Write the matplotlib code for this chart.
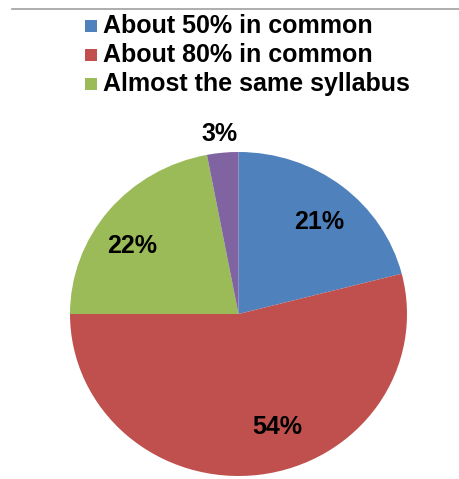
import matplotlib
matplotlib.use('Agg')
import matplotlib.pyplot as plt
from matplotlib.patches import Rectangle
from matplotlib.lines import Line2D

# data
categories = ['About 50% in common', 'About 80% in common', 'Almost the same syllabus', 'Other']
shares = [21, 54, 22, 3]
colors = ['#4F81BD', '#C0504D', '#9BBB59', '#8064A2']
pct_labels = ['21%', '54%', '22%', '3%']
# where excel's "best fit" put the labels (data coords, radius 1)
label_pos = [(0.48, 0.57), (0.23, -0.70), (-0.63, 0.42), (-0.11, 1.11)]

plt.rcParams['font.family'] = ['Liberation Sans', 'DejaVu Sans']

fig = plt.figure(figsize=(4.6, 4.79), dpi=100)
fig.patch.set_facecolor('white')

# thin grey rule at the top
fig.add_artist(Line2D([12 / 460, 1.0], [1 - 9 / 479, 1 - 9 / 479], transform=fig.transFigure,
                      color='#a0a0a0', lw=1.2))

ax = fig.add_axes([70 / 460, 3 / 479, 337 / 460, 324 / 479])
wedges, _ = ax.pie(shares, colors=colors, startangle=90, counterclock=False,
                   wedgeprops=dict(linewidth=0))
ax.set_aspect('auto')
ax.set_xlim(-1, 1)
ax.set_ylim(-1, 1)
for (x, y), t in zip(label_pos, pct_labels):
    ax.text(x, y, t, ha='center', va='center', fontsize=18, fontweight='bold',
            color='black', clip_on=False)

# legend (only first three entries shown)
rows_y = [26, 55, 84]
for name, c, yy in zip(categories[:3], colors[:3], rows_y):
    fy = 1 - yy / 479
    fig.add_artist(Rectangle((85 / 460, fy - 6 / 479), 12 / 460, 12 / 479,
                             transform=fig.transFigure, color=c, lw=0))
    fig.text(103 / 460, fy, name, ha='left', va='center', fontsize=18,
             fontweight='bold', color='black')

fig.savefig('out.png', dpi=100, facecolor='white')
